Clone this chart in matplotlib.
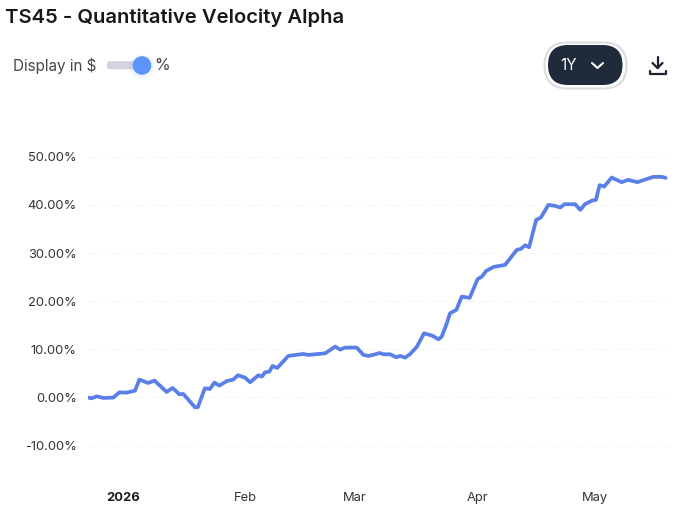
import matplotlib
matplotlib.use("Agg")
import matplotlib.pyplot as plt
from matplotlib.patches import FancyBboxPatch, Circle

# values (days counted from 1 Jan 2026, return in %)
days = [-8.8, -8.0, -6.7, -5.0, -2.5, -0.9, 0.9, 3.05, 4.15, 6.4, 8.0, 11.1, 12.6, 14.3, 15.3, 18.3, 19.0,
        20.8, 22.1, 23.2, 24.5, 26.4, 28.0, 29.2, 31.0, 32.3, 34.4, 35.3, 36.1, 37.2, 38.0, 39.2, 42.0,
        45.8, 47.1, 51.4, 53.9, 55.2, 56.4, 59.4, 61.1, 62.4, 64.1, 65.2, 66.2, 67.9, 69.4, 70.4, 71.7,
        73.0, 74.7, 76.5, 78.5, 80.2, 81.0, 82.3, 83.1, 84.7, 86.1, 88.1, 90.1, 91.2, 92.3, 94.2, 97.1,
        98.4, 100.1, 101.1, 102.2, 103.2, 105.0, 106.2, 108.1, 109.8, 111.1, 112.2, 114.9, 116.2, 117.4,
        119.2, 120.2, 121.1, 122.3, 124.2, 126.7, 128.4, 130.7, 133.5, 134.8, 136.9, 137.9]
returns = [-0.03, -0.17, 0.24, -0.10, -0.03, 1.07, 1.0, 1.42, 3.71, 3.01, 3.5, 1.14, 1.98, 0.66, 0.73, -2.04, -2.04,
           1.9, 1.77, 3.08, 2.46, 3.43, 3.71, 4.61, 4.12, 3.15, 4.61, 4.33, 5.23, 5.37, 6.55, 6.13, 8.63,
           9.04, 8.84, 9.18, 10.57, 9.94, 10.36, 10.36, 8.84, 8.63, 8.97, 9.25, 8.97, 8.97, 8.35, 8.63, 8.28,
           9.04, 10.57, 13.34, 12.86, 12.09, 12.65, 15.42, 17.5, 18.19, 20.96, 20.69, 24.57, 25.12, 26.3, 27.13, 27.55,
           28.93, 30.67, 30.87, 31.64, 31.22, 36.9, 37.39, 40.02, 39.81, 39.47, 40.16, 40.16, 38.98, 40.16,
           40.92, 41.06, 44.11, 43.83, 45.7, 44.74, 45.22, 44.74, 45.5, 45.84, 45.84, 45.63]

y_ticks = [-10, 0, 10, 20, 30, 40, 50]
y_labels = ["-10.00%", "0.00%", "10.00%", "20.00%", "30.00%", "40.00%", "50.00%"]
x_ticks = [0, 31, 59, 90, 120]
x_labels = ["2026", "Feb", "Mar", "Apr", "May"]

W, H = 680, 524
plt.rcParams["font.family"] = ["Inter", "DejaVu Sans"]

fig = plt.figure(figsize=(W / 100, H / 100), dpi=100)

# chart area, placed in pixels
ax = fig.add_axes([88 / W, 1 - 480 / H, 580 / W, 340 / H])
ax.plot(days, returns, color="#5a80e8", lw=2.7, solid_joinstyle="round", solid_capstyle="round", zorder=3)
ax.set_xlim(-8.9, 138.5)
ax.set_ylim(-17.15, 53.5)
ax.set_yticks(y_ticks, y_labels)
ax.set_xticks(x_ticks, x_labels)
ax.grid(axis="y", color="#f5f5f7", lw=0.8, ls=(0, (6, 5)))
ax.grid(axis="x", visible=False)
ax.set_axisbelow(True)
for s in ax.spines.values():
    s.set_visible(False)
ax.tick_params(axis="y", length=0, pad=8, labelsize=9.3, labelcolor="#333338")
ax.tick_params(axis="x", length=0, pad=8.7, labelsize=9.3, labelcolor="#333338")
ax.get_xticklabels()[0].set_fontweight("bold")
ax.get_xticklabels()[0].set_color("#1c1c20")

# header widgets, in pixel coordinates
ui = fig.add_axes([0, 0, 1, 1])
ui.set_xlim(0, W)
ui.set_ylim(H, 0)
ui.axis("off")
ui.patch.set_alpha(0)

ui.text(5, 18, "TS45 - Quantitative Velocity Alpha", fontsize=14.55, fontweight="semibold",
        color="#17181c", va="center", ha="left")
ui.text(13, 65.5, "Display in $", fontsize=11, color="#47474d", va="center", ha="left")
ui.text(154, 65.5, "%", fontsize=11.5, color="#47474d", va="center", ha="left")

ui.add_patch(FancyBboxPatch((107, 61.5), 30, 7.5, boxstyle="round,pad=0,rounding_size=3.7",
                            fc="#d2d2e0", ec="#d2d2e0", lw=0.5))
for r, a in [(13, 0.03), (11.5, 0.05)]:
    ui.add_patch(Circle((142, 66.5), r, fc="#5b94fb", ec="none", alpha=a))
ui.add_patch(Circle((142, 65.5), 9.3, fc="#5b94fb", ec="none"))

ui.add_patch(FancyBboxPatch((544.5, 42.5), 82, 46, boxstyle="round,pad=0,rounding_size=23",
                            fc="white", ec="#dcdce0", lw=1.5))
ui.add_patch(FancyBboxPatch((548, 45), 74.5, 40, boxstyle="round,pad=0,rounding_size=20",
                            fc="#1f2a3a", ec="none"))
ui.text(569, 65, "1Y", fontsize=11, color="white", va="center", ha="center")
ui.plot([592, 597.5, 603], [63, 68, 63], color="white", lw=1.5, solid_capstyle="round", solid_joinstyle="round")

# download icon
icon = dict(color="#1d2230", lw=1.6, solid_capstyle="round", solid_joinstyle="round")
ui.plot([657.5, 657.5], [57, 67.5], **icon)
ui.plot([652.5, 657.5, 662.5], [63, 68, 63], **icon)
ui.plot([650, 650, 665.5, 665.5], [70.5, 73.5, 73.5, 70.5], **icon)

fig.savefig("out.png", dpi=100, facecolor="white")
